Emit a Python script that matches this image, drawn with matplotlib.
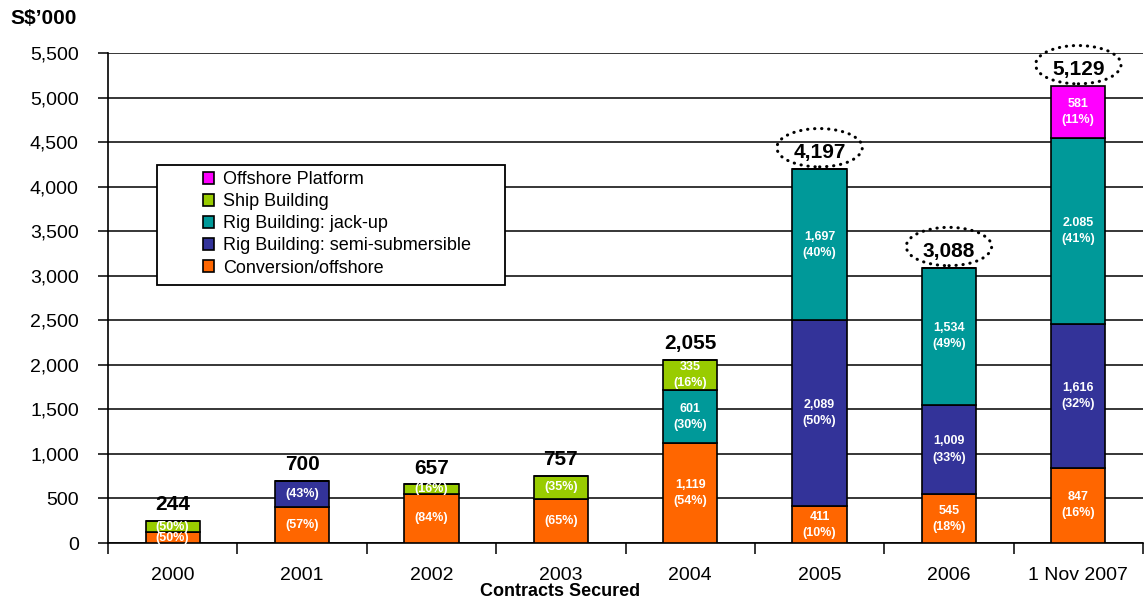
import matplotlib
matplotlib.use("Agg")
import matplotlib.pyplot as plt
from matplotlib.patches import Rectangle, Ellipse

plt.rcParams["font.family"] = ["Liberation Sans", "DejaVu Sans"]

years = ["2000", "2001", "2002", "2003", "2004", "2005", "2006", "1 Nov 2007"]
totals = [244, 700, 657, 757, 2055, 4197, 3088, 5129]

conversion = [122, 399, 552, 492, 1119, 411, 545, 847]
semi_sub = [0, 301, 0, 0, 0, 2089, 1009, 1616]
jack_up = [0, 0, 0, 0, 601, 1697, 1534, 2085]
ship = [122, 0, 105, 265, 335, 0, 0, 0]
offshore = [0, 0, 0, 0, 0, 0, 0, 581]

conversion_lbl = ["(50%)", "(57%)", "(84%)", "(65%)", "1,119\n(54%)", "411\n(10%)", "545\n(18%)", "847\n(16%)"]
semi_lbl = ["", "(43%)", "", "", "", "2,089\n(50%)", "1,009\n(33%)", "1,616\n(32%)"]
jack_lbl = ["", "", "", "", "601\n(30%)", "1,697\n(40%)", "1,534\n(49%)", "2.085\n(41%)"]
ship_lbl = ["(50%)", "", "(16%)", "(35%)", "335\n(16%)", "", "", ""]
offshore_lbl = ["", "", "", "", "", "", "", "581\n(11%)"]

circled = [5, 6, 7]

series = [
    ("Conversion/offshore", conversion, conversion_lbl, "#FF6600"),
    ("Rig Building: semi-submersible", semi_sub, semi_lbl, "#333399"),
    ("Rig Building: jack-up", jack_up, jack_lbl, "#009999"),
    ("Ship Building", ship, ship_lbl, "#99CC00"),
    ("Offshore Platform", offshore, offshore_lbl, "#FF00FF"),
]

fig = plt.figure(figsize=(11.44, 6.03), dpi=100)
ax = fig.add_axes([108 / 1144, 1 - 543 / 603, 1035 / 1144, 490 / 603])

x = list(range(len(years)))
bottom = [0] * len(years)
handles = []
for name, vals, lbls, col in series:
    bars = ax.bar(x, vals, 0.42, bottom=bottom, color=col, edgecolor="black",
                  linewidth=1.2, zorder=3, label=name)
    handles.append(bars)
    for i, (v, t) in enumerate(zip(vals, lbls)):
        if t:
            ax.text(i, bottom[i] + v / 2, t, ha="center", va="center", color="white",
                    fontsize=9, fontweight="bold", linespacing=1.45, zorder=5)
    bottom = [b + v for b, v in zip(bottom, vals)]

for i, t in enumerate(totals):
    ax.annotate(f"{t:,}", (i, t), xytext=(0, 5), textcoords="offset points",
                ha="center", va="bottom", fontsize=15, fontweight="bold", zorder=5)
    if i in circled:
        ax.add_patch(Ellipse((i, t + 240), 0.66, 430, fill=False, edgecolor="black",
                             linewidth=2.2, linestyle=(0, (0.1, 2.2)), capstyle="round",
                             clip_on=False, zorder=6))

ax.set_xlim(-0.5, 7.5)
ax.set_ylim(0, 5500)
ax.set_yticks(range(0, 5501, 500))
ax.set_yticklabels([f"{v:,}" for v in range(0, 5501, 500)], fontsize=14)
ax.yaxis.grid(True, color="black", linewidth=1.1, zorder=0)
ax.set_axisbelow(True)
ax.tick_params(axis="y", length=7, width=1.1, pad=14)

ax.set_xticks(x)
ax.set_xticklabels(years, fontsize=14)
ax.set_xticks([i - 0.5 for i in range(len(years) + 1)], minor=True)
ax.tick_params(axis="x", which="major", length=0, pad=17)
ax.tick_params(axis="x", which="minor", length=8, width=1.1)

for s in ["top", "right"]:
    ax.spines[s].set_visible(False)
for s in ["left", "bottom"]:
    ax.spines[s].set_linewidth(1.2)

# legend with a manual frame
ax.add_patch(Rectangle((0.0473, 0.5265), 0.336, 0.245, transform=ax.transAxes,
                       facecolor="white", edgecolor="black", linewidth=1.3, zorder=7))
leg = ax.legend(handles[::-1], [s[0] for s in series][::-1], loc="upper left",
                bbox_to_anchor=(0.083, 0.777), frameon=False, fontsize=13,
                borderpad=0, handlelength=0.6, handleheight=0.6, handletextpad=0.5,
                labelspacing=0.28)
leg.set_zorder(8)

fig.text(10 / 1144, 1 - 18 / 603, "S$\u2019000", fontsize=15, fontweight="bold",
         ha="left", va="center")
fig.text(560 / 1144, 1 - 591 / 603, "Contracts Secured", fontsize=13, fontweight="bold",
         ha="center", va="center")

fig.savefig("out.png", dpi=100)
